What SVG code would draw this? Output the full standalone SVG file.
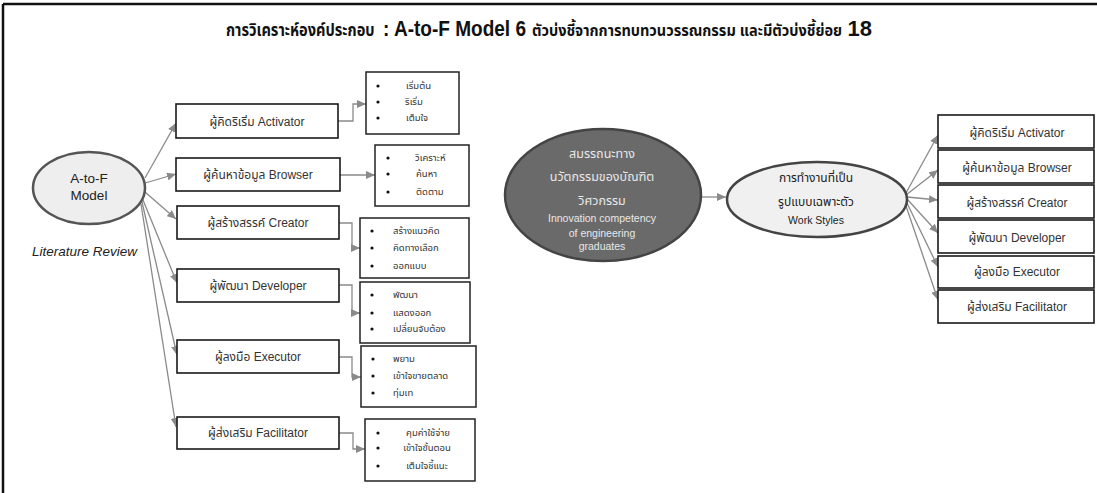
<svg xmlns="http://www.w3.org/2000/svg" width="1097" height="493" viewBox="0 0 1097 493">
  <style>
    .th { font-family: "Liberation Sans", "Noto Sans Thai", "Noto Sans", sans-serif; }
    .box { fill: #ffffff; stroke: #1a1a1a; stroke-width: 1.6; }
    .list { fill: #ffffff; stroke: #222222; stroke-width: 1.5; }
    .lbl { font-size: 12px; fill: #333333; text-anchor: middle; }
    .item { font-size: 9.5px; fill: #333333; }
    .dot { fill: #111111; }
    .conn { fill: none; stroke: #8a8a8a; stroke-width: 1.3; marker-end: url(#arr); }
    .hd { fill: #111111; font-weight: bold; }
  </style>
  <defs>
    <marker id="arr" markerUnits="userSpaceOnUse" markerWidth="10" markerHeight="8" refX="9" refY="4" orient="auto">
      <path d="M0,0 L9,4 L0,8 Z" fill="#8a8a8a"/>
    </marker>
  </defs>

  <rect width="1097" height="493" fill="#ffffff"/>

  <!-- outer frame: top and left edges -->
  <g id="frame" fill="none" stroke="#111111" stroke-width="2.5">
    <line x1="3" y1="4" x2="1097" y2="4"/>
    <line x1="3" y1="4" x2="3" y2="493"/>
  </g>

  <!-- heading, set in horizontally condensed runs -->
  <g id="title" class="th">
    <text class="hd" transform="translate(226,36) scale(0.86,1)" x="0" y="0" font-size="17">การวิเคราะห์องค์ประกอบ</text>
    <text class="hd" x="383" y="36" font-size="22" textLength="143" lengthAdjust="spacingAndGlyphs">: A-to-F Model 6</text>
    <text class="hd" transform="translate(532,36) scale(0.88,1)" x="0" y="0" font-size="16.5">ตัวบ่งชี้จากการทบทวนวรรณกรรม และมีตัวบ่งชี้ย่อย</text>
    <text class="hd" x="872" y="36" font-size="22" text-anchor="end">18</text>
  </g>

  <!-- connectors -->
  <g id="connectors">
    <!-- A-to-F Model to the six roles -->
    <line class="conn" x1="145" y1="178" x2="176" y2="123"/>
    <line class="conn" x1="145" y1="183" x2="176" y2="174"/>
    <line class="conn" x1="145" y1="192" x2="176" y2="219"/>
    <line class="conn" x1="143" y1="200" x2="177" y2="283"/>
    <line class="conn" x1="142" y1="202" x2="177" y2="355"/>
    <line class="conn" x1="141" y1="204" x2="176" y2="427"/>
    <!-- roles to their indicator lists -->
    <polyline class="conn" points="338,121 353,121 353,104 366,104"/>
    <polyline class="conn" points="340,175 375,175"/>
    <polyline class="conn" points="339,223 352,223 352,248 360,248"/>
    <polyline class="conn" points="339,285 352,285 352,313 360,313"/>
    <polyline class="conn" points="339,357 352,357 352,377 361,377"/>
    <polyline class="conn" points="339,433 353,433 353,449 365,449"/>
    <!-- competency to work styles -->
    <line class="conn" x1="701" y1="197" x2="726" y2="197"/>
    <!-- work styles to the six roles -->
    <line class="conn" x1="906" y1="193" x2="938" y2="135"/>
    <line class="conn" x1="906" y1="195" x2="938" y2="170"/>
    <line class="conn" x1="907" y1="197" x2="938" y2="200"/>
    <line class="conn" x1="907" y1="199" x2="938" y2="233"/>
    <line class="conn" x1="906" y1="201" x2="938" y2="267"/>
    <line class="conn" x1="905" y1="203" x2="938" y2="300"/>
  </g>

  <!-- A-to-F Model -->
  <g id="atof" class="th">
    <ellipse cx="89" cy="188" rx="56" ry="36" fill="#eeeeee" stroke="#555555" stroke-width="2.5"/>
    <text x="89" y="183" text-anchor="middle" font-size="13.5" fill="#222222">A-to-F</text>
    <text x="89" y="200" text-anchor="middle" font-size="13.5" fill="#222222">Model</text>
  </g>
  <g id="litreview" class="th">
    <text x="32" y="256" font-size="13.5" font-style="italic" fill="#222222">Literature Review</text>
  </g>

  <!-- left role boxes -->
  <g id="activator" class="th">
    <rect class="box" x="176" y="104" width="162" height="34"/>
    <text class="lbl" x="257" y="126">ผู้คิดริเริ่ม  Activator</text>
  </g>
  <g id="browser" class="th">
    <rect class="box" x="176" y="158" width="164" height="33"/>
    <text class="lbl" x="258" y="179">ผู้ค้นหาข้อมูล  Browser</text>
  </g>
  <g id="creator" class="th">
    <rect class="box" x="177" y="206" width="162" height="33"/>
    <text class="lbl" x="258" y="227">ผู้สร้างสรรค์  Creator</text>
  </g>
  <g id="developer" class="th">
    <rect class="box" x="177" y="269" width="162" height="33"/>
    <text class="lbl" x="258" y="290">ผู้พัฒนา  Developer</text>
  </g>
  <g id="executor" class="th">
    <rect class="box" x="177" y="340" width="162" height="33"/>
    <text class="lbl" x="258" y="361">ผู้ลงมือ Executor</text>
  </g>
  <g id="facilitator" class="th">
    <rect class="box" x="177" y="417" width="162" height="32"/>
    <text class="lbl" x="258" y="437">ผู้ส่งเสริม Facilitator</text>
  </g>

  <!-- indicator lists -->
  <g id="list-activator" class="th">
    <rect class="list" x="366" y="72" width="93" height="62"/>
    <circle class="dot" cx="378" cy="86" r="1.6"/>
    <circle class="dot" cx="378" cy="102" r="1.6"/>
    <circle class="dot" cx="378" cy="118" r="1.6"/>
    <text class="item" x="406" y="89">เริ่มต้น</text>
    <text class="item" x="405" y="105">ริเริ่ม</text>
    <text class="item" x="406" y="121">เต็มใจ</text>
  </g>
  <g id="list-browser" class="th">
    <rect class="list" x="375" y="145" width="94" height="61"/>
    <circle class="dot" cx="388" cy="158" r="1.6"/>
    <circle class="dot" cx="388" cy="174" r="1.6"/>
    <circle class="dot" cx="388" cy="192" r="1.6"/>
    <text class="item" x="415" y="161">วิเคราะห์</text>
    <text class="item" x="416" y="177">ค้นหา</text>
    <text class="item" x="416" y="195">ติดตาม</text>
  </g>
  <g id="list-creator" class="th">
    <rect class="list" x="360" y="218" width="109" height="60"/>
    <circle class="dot" cx="372" cy="231" r="1.6"/>
    <circle class="dot" cx="372" cy="248" r="1.6"/>
    <circle class="dot" cx="372" cy="266" r="1.6"/>
    <text class="item" x="393" y="234">สร้างแนวคิด</text>
    <text class="item" x="393" y="251">คิดทางเลือก</text>
    <text class="item" x="393" y="269">ออกแบบ</text>
  </g>
  <g id="list-developer" class="th">
    <rect class="list" x="360" y="282" width="110" height="61"/>
    <circle class="dot" cx="372" cy="295" r="1.6"/>
    <circle class="dot" cx="372" cy="313" r="1.6"/>
    <circle class="dot" cx="372" cy="329" r="1.6"/>
    <text class="item" x="393" y="298">พัฒนา</text>
    <text class="item" x="393" y="316">แสดงออก</text>
    <text class="item" x="393" y="332">เปลี่ยนจับต้อง</text>
  </g>
  <g id="list-executor" class="th">
    <rect class="list" x="361" y="346" width="115" height="61"/>
    <circle class="dot" cx="373" cy="359" r="1.6"/>
    <circle class="dot" cx="373" cy="376" r="1.6"/>
    <circle class="dot" cx="373" cy="393" r="1.6"/>
    <text class="item" x="393" y="362">พยาม</text>
    <text class="item" x="393" y="379">เข้าใจขายตลาด</text>
    <text class="item" x="393" y="396">ทุ่มเท</text>
  </g>
  <g id="list-facilitator" class="th">
    <rect class="list" x="365" y="419" width="110" height="62"/>
    <circle class="dot" cx="378" cy="433" r="1.6"/>
    <circle class="dot" cx="378" cy="448" r="1.6"/>
    <circle class="dot" cx="378" cy="466" r="1.6"/>
    <text class="item" x="428" y="436" text-anchor="middle">คุมค่าใช้จ่าย</text>
    <text class="item" x="427" y="451" text-anchor="middle">เข้าใจขั้นตอน</text>
    <text class="item" x="427" y="469" text-anchor="middle">เต็มใจชี้แนะ</text>
  </g>

  <!-- innovation competency -->
  <g id="competency" class="th">
    <ellipse cx="603" cy="195" rx="98" ry="66" fill="#6a6a6a" stroke="#444444" stroke-width="2.5"/>
    <g fill="#e8e8e8" text-anchor="middle">
      <text x="602" y="158" font-size="12.5">สมรรถนะทาง</text>
      <text x="602" y="181" font-size="12.5">นวัตกรรมของบัณฑิต</text>
      <text x="602" y="205" font-size="12.5">วิศวกรรม</text>
      <text x="602" y="222" font-size="10.5">Innovation competency</text>
      <text x="602" y="237" font-size="10.5">of engineering</text>
      <text x="602" y="250" font-size="10.5">graduates</text>
    </g>
  </g>

  <!-- work styles -->
  <g id="workstyles" class="th">
    <ellipse cx="817" cy="199.5" rx="90" ry="37.5" fill="#f0f0f0" stroke="#444444" stroke-width="2.5"/>
    <g fill="#222222" text-anchor="middle">
      <text x="816" y="182" font-size="12">การทำงานที่เป็น</text>
      <text x="816" y="206" font-size="12">รูปแบบเฉพาะตัว</text>
      <text x="816" y="224" font-size="10.5">Work Styles</text>
    </g>
  </g>

  <!-- right role boxes -->
  <g id="r-activator" class="th">
    <rect class="box" x="938" y="115" width="156" height="33"/>
    <text class="lbl" x="1017" y="137">ผู้คิดริเริ่ม  Activator</text>
  </g>
  <g id="r-browser" class="th">
    <rect class="box" x="938" y="150" width="156" height="33"/>
    <text class="lbl" x="1017" y="172">ผู้ค้นหาข้อมูล  Browser</text>
  </g>
  <g id="r-creator" class="th">
    <rect class="box" x="938" y="185" width="156" height="33"/>
    <text class="lbl" x="1017" y="207">ผู้สร้างสรรค์  Creator</text>
  </g>
  <g id="r-developer" class="th">
    <rect class="box" x="938" y="220" width="156" height="33"/>
    <text class="lbl" x="1017" y="242">ผู้พัฒนา  Developer</text>
  </g>
  <g id="r-executor" class="th">
    <rect class="box" x="938" y="256" width="156" height="32"/>
    <text class="lbl" x="1017" y="276">ผู้ลงมือ Executor</text>
  </g>
  <g id="r-facilitator" class="th">
    <rect class="box" x="938" y="290" width="156" height="33"/>
    <text class="lbl" x="1017" y="311">ผู้ส่งเสริม Facilitator</text>
  </g>
</svg>
